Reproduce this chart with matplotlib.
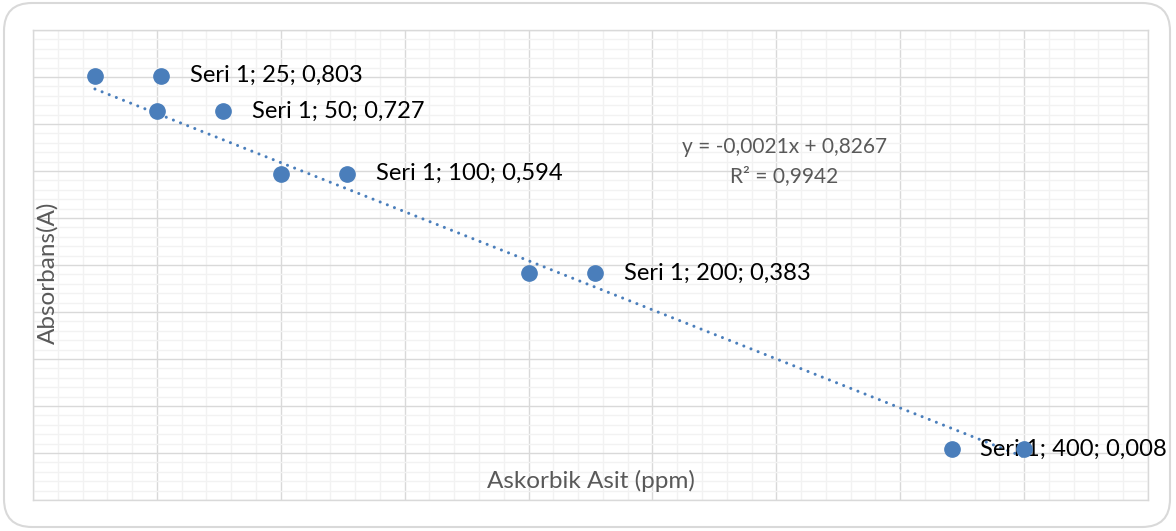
import numpy as np
import matplotlib
matplotlib.use('Agg')
import matplotlib.pyplot as plt
from matplotlib.ticker import MultipleLocator
from matplotlib.patches import FancyBboxPatch
from matplotlib.transforms import offset_copy, IdentityTransform

# Data
concentration = [25, 50, 100, 200, 400]          # Askorbik Asit (ppm)
absorbance = [0.803, 0.727, 0.594, 0.383, 0.008]  # Absorbans(A)
series_name = "Seri 1"

# Label placement (pixels, relative to the point) - last label is pushed left by Excel
label_marker_dx = [66, 66, 66, 66, -72]
label_text_dx = [95, 95, 95, 95, -44]

blue = '#4a7ebb'
gray_text = '#595959'

plt.rcParams['font.family'] = ['Lato', 'DejaVu Sans']

fig = plt.figure(figsize=(11.76, 5.31), dpi=100)
W, H = 1176, 531
ax = fig.add_axes([33 / W, (H - 500) / H, (1148 - 33) / W, (500 - 30) / H])

ax.set_xlim(0, 450)
ax.set_ylim(-0.1, 0.9)
ax.xaxis.set_major_locator(MultipleLocator(50))
ax.xaxis.set_minor_locator(MultipleLocator(10))
ax.yaxis.set_major_locator(MultipleLocator(0.1))
ax.yaxis.set_minor_locator(MultipleLocator(0.02))
ax.grid(which='minor', color='#f2f2f2', lw=1)
ax.grid(which='major', color='#d9d9d9', lw=1)
ax.set_axisbelow(True)
ax.tick_params(which='both', length=0, labelbottom=False, labelleft=False)
for sp in ax.spines.values():
    sp.set_color('#d9d9d9')
    sp.set_linewidth(1)

# Linear trendline
slope, intercept = np.polyfit(concentration, absorbance, 1)
r2 = np.corrcoef(concentration, absorbance)[0, 1] ** 2
xs = np.array([min(concentration), max(concentration)])
ax.plot(xs, slope * xs + intercept, color=blue, lw=2.2,
        dashes=(0.01, 2.5), dash_capstyle='round', zorder=2)

# Data labels with legend-key markers (Excel style), drawn under the points
for x, y, mdx, tdx in zip(concentration, absorbance, label_marker_dx, label_text_dx):
    tr = offset_copy(ax.transData, fig=fig, x=mdx, y=0, units='dots')
    ax.plot([x], [y], 'o', color=blue, ms=11, mec=blue, transform=tr, zorder=3)
    ax.annotate(f"{series_name}; {x}; {y:.3f}".replace('.', ','), (x, y),
                xytext=(tdx, 0), textcoords='offset pixels',
                ha='left', va='center', fontsize=17.1, color='black', zorder=3)

# Data points
ax.plot(concentration, absorbance, 'o', color=blue, ms=11, mec=blue, zorder=5)

# Trendline equation
eq = f"y = {slope:.4f}x + {intercept:.4f}".replace('.', ',')
ax.text(0.674, 0.751, eq, transform=ax.transAxes, ha='center', va='center',
        fontsize=15, color=gray_text)
ax.text(0.674, 0.689, f"R² = {r2:.4f}".replace('.', ','), transform=ax.transAxes,
        ha='center', va='center', fontsize=15, color=gray_text)

# Axis titles (drawn inside the plot area as in the reference)
ax.text(0.5, 0.04, "Askorbik Asit (ppm)", transform=ax.transAxes, ha='center',
        va='center', fontsize=17.5, color=gray_text)
ax.text(0.013, 0.483, "Absorbans(A)", transform=ax.transAxes, ha='center',
        va='center', rotation=90, fontsize=17.5, color=gray_text)

# Rounded chart-area border
border = FancyBboxPatch((4, 4), 1166, 524, boxstyle="round,pad=0,rounding_size=28",
                        transform=IdentityTransform(), fill=False,
                        edgecolor='#d9d9d9', lw=1.5)
fig.patches.append(border)

fig.savefig('out.png', dpi=100)
